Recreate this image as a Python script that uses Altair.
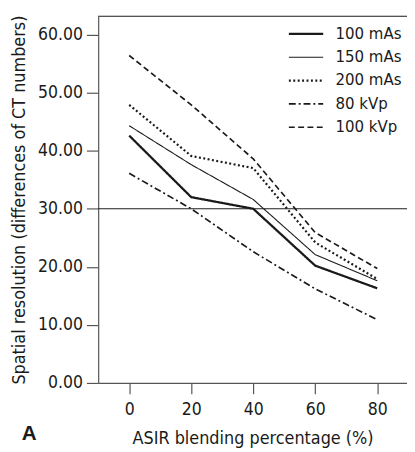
import altair as alt
import pandas as pd

asir = [0, 20, 40, 60, 80]
series_names = ["100 mAs", "150 mAs", "200 mAs", "80 kVp", "100 kVp"]
v_100mas = [42.6, 32.0, 30.0, 20.2, 16.3]
v_150mas = [44.3, 37.6, 31.6, 22.1, 17.6]
v_200mas = [47.9, 39.1, 37.0, 24.2, 17.9]
v_80kvp = [36.1, 30.0, 22.6, 16.2, 10.9]
v_100kvp = [56.4, 47.9, 38.6, 25.9, 19.7]
y_ticks = [0, 10, 20, 30, 40, 50, 60]
threshold = [30]
panel_label = ["A"]

values = [v_100mas, v_150mas, v_200mas, v_80kvp, v_100kvp]
rows = []
for name, vals in zip(series_names, values):
    for x, y in zip(asir, vals):
        rows.append({"asir": x, "value": y, "series": name})
df = pd.DataFrame(rows)

FONT = "DejaVu Sans Condensed, Liberation Sans, sans-serif"
INK = "#1a1a1a"

xscale = alt.Scale(domain=[-10, 89.6], nice=False, zero=False)
yscale = alt.Scale(domain=[0, 63.15], nice=False, zero=True)

leg = alt.Legend(title=None, orient="none", legendX=193, legendY=9,
                 symbolType="stroke", symbolSize=1225, clipHeight=18,
                 rowPadding=5.8, labelOffset=11, padding=0,
                 symbolStrokeColor=INK, labelFont=FONT, labelFontSize=17,
                 labelColor=INK)

lines = alt.Chart(df).mark_line(color=INK, strokeCap="butt").encode(
    x=alt.X("asir:Q", scale=xscale,
            axis=alt.Axis(values=asir, title="ASIR blending percentage (%)", format="d")),
    y=alt.Y("value:Q", scale=yscale,
            axis=alt.Axis(values=y_ticks, format=".2f",
                          title="Spatial resolution (differences of CT numbers)")),
    strokeDash=alt.StrokeDash(
        "series:N",
        scale=alt.Scale(type="ordinal", domain=series_names,
                        range=[[1, 0], [1, 0], [2, 2.5], [7, 3, 2, 3], [6, 3.5]]),
        legend=leg,
    ),
    strokeWidth=alt.StrokeWidth(
        "series:N",
        scale=alt.Scale(type="ordinal", domain=series_names,
                        range=[2.3, 1.1, 2.2, 1.7, 1.7]),
        legend=leg,
    ),
    detail="series:N",
)

thr_df = pd.DataFrame({"y": threshold})
rule30 = alt.Chart(thr_df).mark_rule(color=INK, strokeWidth=1).encode(
    y=alt.Y("y:Q", scale=yscale)
)

top_rule = alt.Chart(thr_df).mark_rule(color=INK, strokeWidth=1.2).encode(
    y=alt.value(0)
)

label_df = pd.DataFrame({"t": panel_label})
label = alt.Chart(label_df).mark_text(
    font="Liberation Sans", fontSize=21, fontWeight="bold", color=INK,
    align="left", baseline="alphabetic"
).encode(text="t:N", x=alt.value(-78), y=alt.value(432))

chart = alt.layer(lines, rule30, top_rule, label).properties(
    width=315,
    height=374,
    autosize=alt.AutoSizeParams(type="none"),
    padding={"left": 92, "top": 4, "right": 0, "bottom": 66},
).configure_view(stroke=None).configure_axis(
    grid=False,
    labelFont=FONT,
    titleFont=FONT,
    labelFontSize=17.8,
    titleFontSize=18.2,
    titleFontWeight="normal",
    labelColor=INK,
    titleColor=INK,
    domainColor="#555555",
    tickColor="#555555",
    domainWidth=1.2,
    tickWidth=1.2,
).configure_axisY(
    tickSize=12, labelPadding=4, titlePadding=9
).configure_axisX(
    tickSize=11, labelPadding=7, titlePadding=12
)

chart.save("out.html", embed_options={"renderer": "svg", "actions": False})
